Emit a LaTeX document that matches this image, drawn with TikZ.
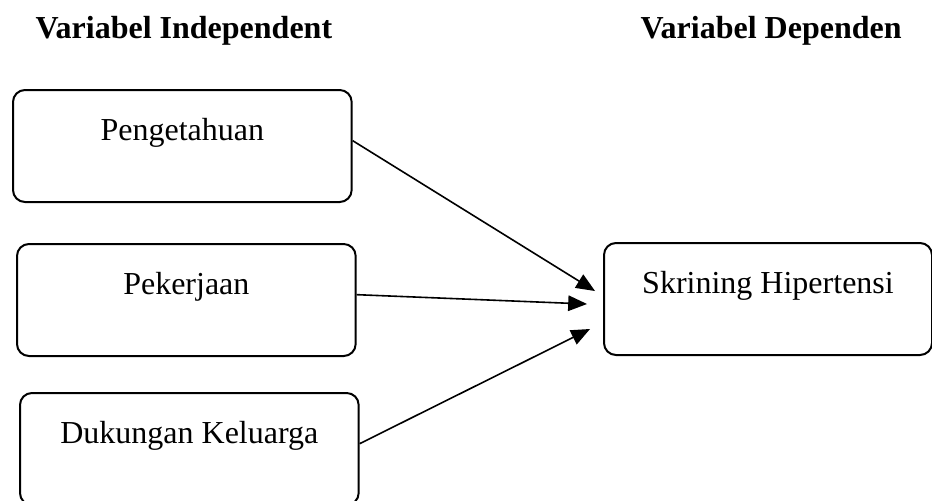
\documentclass[tikz,border=0pt]{standalone}
\usepackage{fontspec}
\setmainfont{Liberation Serif}
\usetikzlibrary{arrows}
\tikzset{
  var_box/.style = {draw=black, rounded corners=4.5pt, line width=0.75pt,
    inner xsep=0pt, inner ysep=0pt, text centered, anchor=north west,
    text height=19pt, text depth=23pt, font=\fontsize{12}{14}\selectfont},
  var_hd/.style = {inner sep=0pt, anchor=base west,
    font=\fontsize{12}{14}\selectfont\bfseries}}

\begin{document}
\begin{tikzpicture}[->,>=triangle 45,x=0.375pt,y=-0.375pt]
\useasboundingbox (0,0) rectangle (932,500);

\node [var_hd] (hind) at (35,38) {Variabel Independent};
\node [var_hd] (hdep) at (640,38) {Variabel Dependen};

\node [var_box, minimum width=127pt] (peng) at (12,89) {Pengetahuan};
\node [var_box, minimum width=127pt] (pek) at (16,243) {Pekerjaan};
\node [var_box, minimum width=127pt] (duk) at (19,392) {Dukungan Keluarga};
\node [var_box, minimum width=123pt] (skr) at (603,242) {Skrining Hipertensi};

% arrow tips stop short of the box
\coordinate (in1) at ([shift={(-8,-8)}]skr.west);
\coordinate (in2) at ([shift={(-16,5)}]skr.west);
\coordinate (in3) at ([shift={(-13,30)}]skr.west);

\draw [line width=0.6pt] (peng.base east) -- (in1);
\draw [line width=0.6pt] (pek.base east) -- (in2);
\draw [line width=0.6pt] (duk.base east) -- (in3);
\end{tikzpicture}
\end{document}
